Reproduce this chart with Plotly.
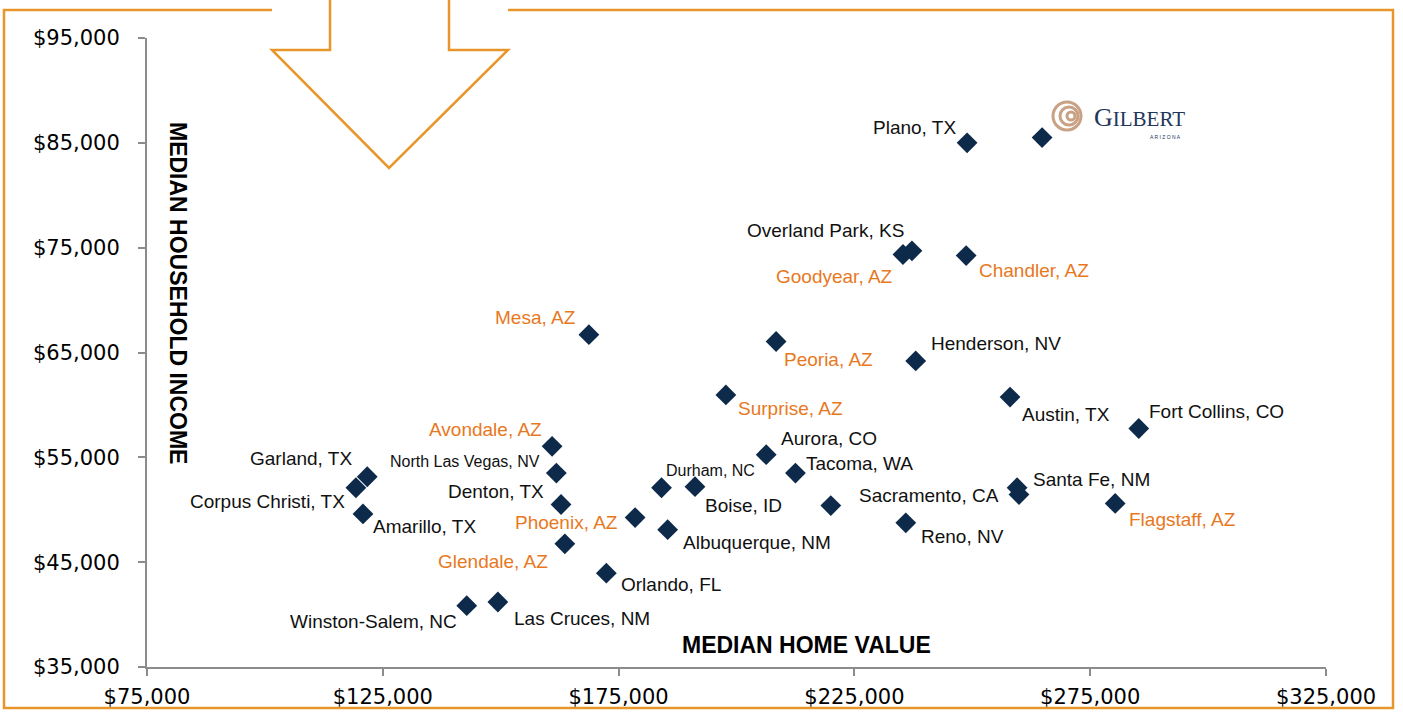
import plotly.graph_objects as go

# ---------------- data ----------------
cities = ["Plano, TX", "Gilbert, AZ", "Overland Park, KS", "Goodyear, AZ", "Chandler, AZ",
          "Mesa, AZ", "Peoria, AZ", "Henderson, NV", "Surprise, AZ", "Austin, TX",
          "Fort Collins, CO", "Avondale, AZ", "Aurora, CO", "North Las Vegas, NV", "Tacoma, WA",
          "Garland, TX", "Corpus Christi, TX", "Durham, NC", "Boise, ID", "Santa Fe, NM",
          "Sacramento, CA", "Other", "Denton, TX", "Flagstaff, AZ", "Reno, NV",
          "Amarillo, TX", "Phoenix, AZ", "Albuquerque, NM", "Glendale, AZ", "Orlando, FL",
          "Winston-Salem, NC", "Las Cruces, NM"]
home_value = [248900, 264800, 237200, 235300, 248700,
              168700, 208400, 238000, 197750, 258000,
              285300, 160900, 206300, 161800, 212500,
              121700, 119300, 184100, 191200, 259500,
              259900, 220000, 162800, 280300, 235900,
              120800, 178500, 185400, 163600, 172400,
              142800, 149400]
income = [85000, 85500, 74700, 74350, 74250,
          66700, 66050, 64200, 60950, 60750,
          57750, 56050, 55250, 53500, 53500,
          53150, 52100, 52100, 52200, 52100,
          51450, 50400, 50500, 50600, 48750,
          49600, 49250, 48100, 46750, 43950,
          40850, 41200]
labels = ["Plano, TX", "", "Overland Park, KS", "Goodyear, AZ", "Chandler, AZ",
          "Mesa, AZ", "Peoria, AZ", "Henderson, NV", "Surprise, AZ", "Austin, TX",
          "Fort Collins, CO", "Avondale, AZ", "Aurora, CO", "North Las Vegas, NV", "Tacoma, WA",
          "Garland, TX", "Corpus Christi, TX", "Durham, NC", "Boise, ID", "Santa Fe, NM",
          "Sacramento, CA", "", "Denton, TX", "Flagstaff, AZ", "Reno, NV",
          "Amarillo, TX", "Phoenix, AZ", "Albuquerque, NM", "Glendale, AZ", "Orlando, FL",
          "Winston-Salem, NC", "Las Cruces, NM"]
is_arizona = [False, True, False, True, True,
              True, True, False, True, False,
              False, True, False, False, False,
              False, False, False, False, False,
              False, False, False, True, False,
              False, True, False, True, False,
              False, False]
x_ticks = [75000, 125000, 175000, 225000, 275000, 325000]
x_tick_text = ["$75,000", "$125,000", "$175,000", "$225,000", "$275,000", "$325,000"]
y_ticks = [35000, 45000, 55000, 65000, 75000, 85000, 95000]
y_tick_text = ["$35,000", "$45,000", "$55,000", "$65,000", "$75,000", "$85,000", "$95,000"]
x_title = "MEDIAN HOME VALUE"
y_title = "MEDIAN HOUSEHOLD INCOME"

# ---------------- label placement (style) ----------------
label_anchor = ["right", "left", "right", "right", "left",
                "right", "left", "left", "left", "left",
                "left", "right", "left", "right", "left",
                "right", "right", "left", "left", "left",
                "right", "left", "right", "left", "left",
                "left", "right", "left", "right", "left",
                "right", "left"]
label_dx = [-9, 0, -6, -8, 11,
            -11, 6, 13, 10, 10,
            8, -8, 13, -14, 9,
            -13, -9, 2, 8, 14,
            -18, 0, -15, 12, 13,
            8, -15, 13, -15, 13,
            -8, 14]
label_dy = [-15, 0, -20, 22, 15,
            -17, 18, -17, 14, 17,
            -17, -17, -16, -12, -10,
            -18, 14, -17, 19, -8,
            1, 0, -13, 16, 14,
            13, 5, 13, 18, 11,
            16, 16]
small_label = {"North Las Vegas, NV", "Durham, NC"}

NAVY = "#0E2A4A"
ORANGE = "#E8781E"
FRAME = "#E8962A"
AXIS = "#8C8C8C"
FONT = "Liberation Sans, Arial, sans-serif"

W, H = 1403, 717
L, R, T, B = 147, 77, 38, 50
PW, PH = W - L - R, H - T - B


def px_x(p):
    return (p - L) / PW


def px_y(p):
    return (H - B - p) / PH


fig = go.Figure()
fig.add_trace(go.Scatter(
    x=home_value, y=income, mode="markers",
    marker=dict(symbol="diamond", size=16, color=NAVY, line=dict(width=0)),
    hovertext=cities, hoverinfo="text", showlegend=False,
))

annotations = []
for i, lab in enumerate(labels):
    if not lab:
        continue
    annotations.append(dict(
        x=home_value[i], y=income[i], xref="x", yref="y", text=lab, showarrow=False,
        xanchor=label_anchor[i], yanchor="middle",
        xshift=label_dx[i], yshift=-label_dy[i],
        font=dict(family=FONT, size=16 if lab in small_label else 19,
                  color=ORANGE if is_arizona[i] else "#111111"),
    ))

# axis titles
annotations.append(dict(x=px_x(806), y=px_y(645), xref="paper", yref="paper", text="<b>" + x_title + "</b>",
                        showarrow=False, xanchor="center", yanchor="middle",
                        font=dict(family=FONT, size=23, color="#000000")))
annotations.append(dict(x=px_x(178), y=px_y(293), xref="paper", yref="paper", text="<b>" + y_title + "</b>",
                        showarrow=False, xanchor="center", yanchor="middle", textangle=90,
                        font=dict(family=FONT, size=23, color="#000000")))

# Gilbert logo text
annotations.append(dict(x=px_x(1092), y=px_y(117), xref="paper", yref="paper",
                        text="<span style='font-size:26px'>G</span>ILBERT", showarrow=False,
                        xanchor="left", yanchor="middle",
                        font=dict(family="Liberation Serif, DejaVu Serif, serif", size=21, color="#22365A")))
annotations.append(dict(x=px_x(1165), y=px_y(137), xref="paper", yref="paper",
                        text="A R I Z O N A", showarrow=False, xanchor="center", yanchor="middle",
                        font=dict(family=FONT, size=5, color="#22365A")))

shapes = []
fl = dict(color=FRAME, width=2.5)
# frame with gap at top for arrow
shapes.append(dict(type="path", xref="paper", yref="paper",
                   path=f"M {px_x(272)} {px_y(10)} L {px_x(4)} {px_y(10)} L {px_x(4)} {px_y(708)} "
                        f"L {px_x(1393)} {px_y(708)} L {px_x(1393)} {px_y(10)} L {px_x(508)} {px_y(10)}",
                   line=fl))
# arrow
shapes.append(dict(type="path", xref="paper", yref="paper",
                   path=f"M {px_x(330)} {px_y(-2)} L {px_x(330)} {px_y(50)} L {px_x(272)} {px_y(50)} "
                        f"L {px_x(389)} {px_y(168)} L {px_x(508)} {px_y(50)} L {px_x(449)} {px_y(50)} "
                        f"L {px_x(449)} {px_y(-2)}",
                   line=fl))
# logo swirl
for cx, cy, r, wdt in [(1067, 116, 14, 3), (1069, 116, 9, 3), (1071, 116, 4, 3)]:
    shapes.append(dict(type="circle", xref="paper", yref="paper",
                       x0=px_x(cx - r), x1=px_x(cx + r), y0=px_y(cy + r), y1=px_y(cy - r),
                       line=dict(color="#C9A184", width=wdt)))

fig.update_layout(
    width=W, height=H, autosize=False,
    margin=dict(l=L, r=R, t=T, b=B, autoexpand=False),
    paper_bgcolor="white", plot_bgcolor="white",
    annotations=annotations, shapes=shapes,
    xaxis=dict(range=[75000, 325000], tickvals=x_ticks, ticktext=x_tick_text,
               showgrid=False, zeroline=False, showline=True, linecolor=AXIS, linewidth=2,
               ticks="outside", ticklen=7, tickcolor=AXIS, tickwidth=2, automargin=False,
               tickfont=dict(family="DejaVu Sans, sans-serif", size=21, color="#000000"),
               ticklabelstandoff=3),
    yaxis=dict(range=[35000, 95000], tickvals=y_ticks, ticktext=y_tick_text,
               showgrid=False, zeroline=False, showline=True, linecolor=AXIS, linewidth=2,
               ticks="outside", ticklen=7, tickcolor=AXIS, tickwidth=2, automargin=False,
               tickfont=dict(family="DejaVu Sans, sans-serif", size=21, color="#000000"),
               ticklabelstandoff=14),
)

post = ("var s='margin:0;padding:0;overflow:hidden;';"
        "document.documentElement.style.cssText=s;document.body.style.cssText=s;"
        "var d=document.querySelector('.plotly-graph-div');if(d){d.style.display='block';}")
fig.write_html("out.html", config={"displayModeBar": False, "responsive": False}, post_script=post)
